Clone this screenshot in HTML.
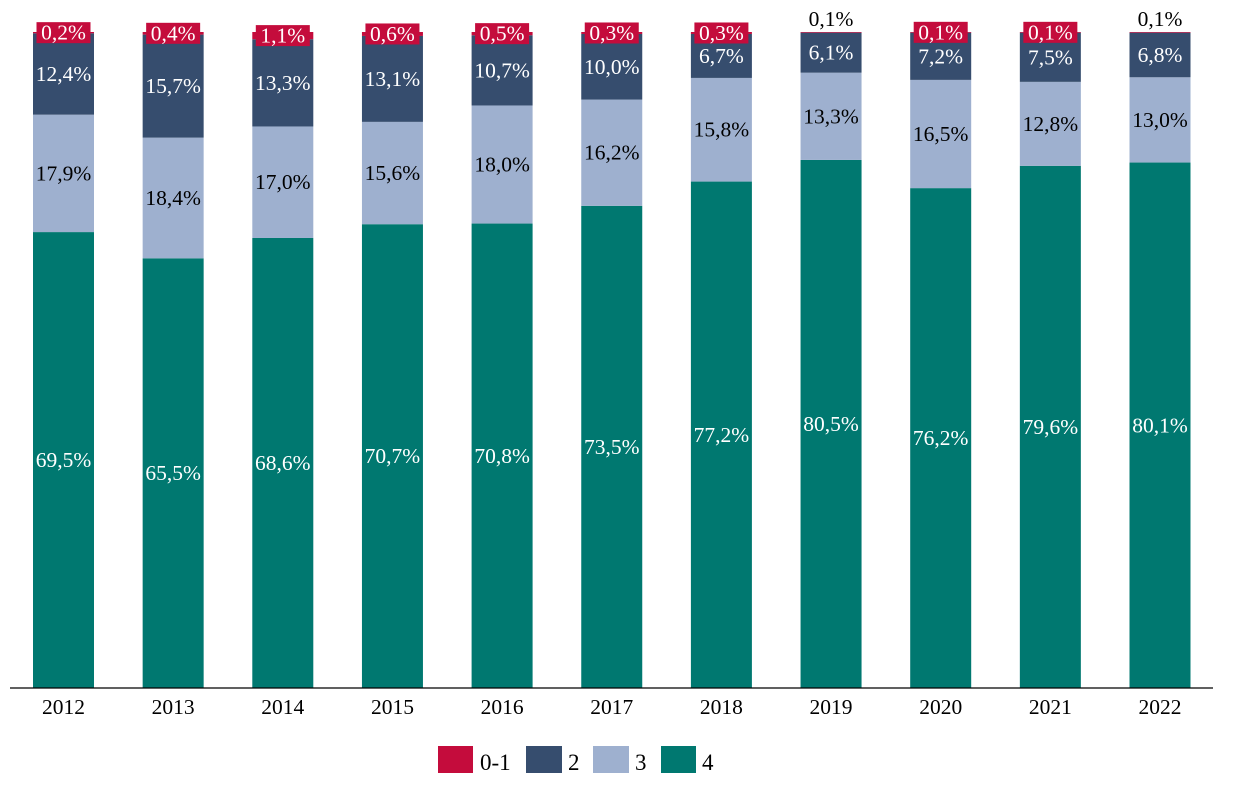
<!DOCTYPE html>
<html><head><meta charset="utf-8"><style>
body{margin:0;background:#fff;}
svg text{font-family:"Liberation Serif",serif;}
</style></head><body>
<svg id="chart" width="1239" height="782" xmlns="http://www.w3.org/2000/svg">
<g id="bars"></g>
<line x1="10" y1="688" x2="1213" y2="688" stroke="#000" stroke-width="1.3"/>
<g id="xlabels"></g>
<g font-size="23">
<rect x="438" y="746" width="35" height="27" fill="#C40C3C"/>
<text x="480" y="770">0-1</text>
<rect x="526" y="746" width="36" height="27" fill="#364D6E"/>
<text x="568" y="770">2</text>
<rect x="593" y="746" width="36" height="27" fill="#9EB0CF"/>
<text x="635" y="770">3</text>
<rect x="661" y="746" width="35" height="27" fill="#007870"/>
<text x="702" y="770">4</text>
</g>
</svg>
<script>
const years=["2012","2013","2014","2015","2016","2017","2018","2019","2020","2021","2022"];
const s4=[69.5,65.5,68.6,70.7,70.8,73.5,77.2,80.5,76.2,79.6,80.1];
const s3=[17.9,18.4,17.0,15.6,18.0,16.2,15.8,13.3,16.5,12.8,13.0];
const s2=[12.4,15.7,13.3,13.1,10.7,10.0,6.7,6.1,7.2,7.5,6.8];
const s01=[0.2,0.4,1.1,0.6,0.5,0.3,0.3,0.1,0.1,0.1,0.1];
const boxed=[true,true,true,true,true,true,true,false,true,true,false];
const NS="http://www.w3.org/2000/svg";
const base=688, pxPer=6.56, x0=63.5, step=109.65, bw=61, fs=21.5;
const X=i=>x0+i*step;
const Y=v=>base-v*pxPer;
const fmt=v=>v.toFixed(1).replace('.',',')+'%';
const g=document.getElementById('bars'), xl=document.getElementById('xlabels');
function mk(tag,attrs,parent){const e=document.createElementNS(NS,tag);for(const k in attrs)e.setAttribute(k,attrs[k]);parent.appendChild(e);return e;}
years.forEach((yr,i)=>{
  const cx=X(i);
  const segs=[[s4[i],'#007870','#fff','4'],[s3[i],'#9EB0CF','#000','3'],[s2[i],'#364D6E','#fff','2'],[s01[i],'#C40C3C','#fff','0-1']];
  let cum=0;
  segs.forEach(([v,fill,tc,key])=>{
    const y1=Y(cum+v), y0=Y(cum);
    const r=mk('rect',{x:cx-bw/2,y:y1,width:bw,height:y0-y1,fill:fill},g);
    
    
    const mid=(y0+y1)/2;
    if(key==='0-1'){
      if(boxed[i]){
        const b=mk('rect',{x:cx-27,y:mid-10.5,width:54,height:21,fill:'#C40C3C'},g);
        
        
        const t=mk('text',{x:cx,y:mid+7,'text-anchor':'middle','font-size':fs,fill:'#fff'},g);
        t.textContent=fmt(v);
        
        
      } else {
        const t=mk('text',{x:cx,y:y1-6,'text-anchor':'middle','font-size':fs,fill:'#000'},g);
        t.textContent=fmt(v);
        
        
      }
    } else {
      const t=mk('text',{x:cx,y:mid+7,'text-anchor':'middle','font-size':fs,fill:tc},g);
      t.textContent=fmt(v);
      
      
    }
    cum+=v;
  });
  const t=mk('text',{x:cx,y:714,'text-anchor':'middle','font-size':fs,fill:'#000'},xl);
  t.textContent=yr;
  
  
});
</script>
</body></html>
